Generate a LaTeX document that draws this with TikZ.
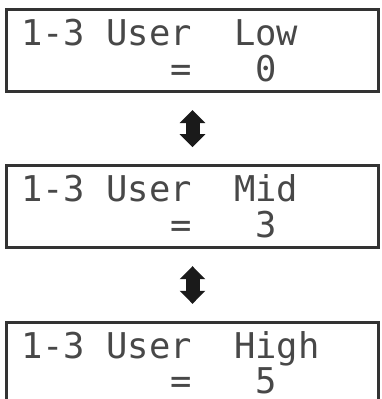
\documentclass[tikz,border=0pt]{standalone}
\usepackage{fontspec}
\usetikzlibrary{arrows.meta}
\newfontfamily\lcdfont{DejaVu Sans Mono}
\definecolor{lcdgray}{HTML}{484848}
\definecolor{framegray}{HTML}{333333}
\definecolor{arrowblack}{HTML}{1A1A1A}
\tikzset{
  screenbox/.style={draw=framegray, line width=2.5pt, minimum width=372pt, minimum height=82pt, anchor=north west, inner sep=0pt, outer sep=0pt},
  lcdtext/.style={anchor=base west, inner sep=0pt, outer sep=0pt, text=lcdgray, font=\lcdfont\fontsize{35.5}{35.5}\selectfont},
  updown/.style={draw=arrowblack, line width=14pt, {Triangle[width=25pt,length=13pt]}-{Triangle[width=25pt,length=13pt]}}
}
\begin{document}
\begin{tikzpicture}[x=1pt,y=-1pt]
\clip (0,0) rectangle (382,399);
% screens
\node[screenbox] (b1) at (6.5,9.5) {};
\node[screenbox] (b2) at (6.5,165.7) {};
\node[screenbox] (b3) at (6.5,322.3) {};
% screen 1
\node[lcdtext] (t1a) at ([xshift=14.5pt,yshift=-36pt]b1.north west) {1-3 User};
\node[lcdtext] (t1b) at ([xshift=227.5pt,yshift=-36pt]b1.north west) {Low};
\node[lcdtext] (t1c) at ([xshift=163.6pt,yshift=-72pt]b1.north west) {=};
\node[lcdtext] (t1d) at ([xshift=248.8pt,yshift=-72pt]b1.north west) {0};
% screen 2
\node[lcdtext] (t2a) at ([xshift=14.5pt,yshift=-36pt]b2.north west) {1-3 User};
\node[lcdtext] (t2b) at ([xshift=227.5pt,yshift=-36pt]b2.north west) {Mid};
\node[lcdtext] (t2c) at ([xshift=163.6pt,yshift=-72pt]b2.north west) {=};
\node[lcdtext] (t2d) at ([xshift=248.8pt,yshift=-72pt]b2.north west) {3};
% screen 3
\node[lcdtext] (t3a) at ([xshift=14.5pt,yshift=-36pt]b3.north west) {1-3 User};
\node[lcdtext] (t3b) at ([xshift=227.5pt,yshift=-36pt]b3.north west) {High};
\node[lcdtext] (t3c) at ([xshift=163.6pt,yshift=-71pt]b3.north west) {=};
\node[lcdtext] (t3d) at ([xshift=248.8pt,yshift=-71pt]b3.north west) {5};
% arrows
\draw[updown] ([yshift=-18.5pt]b1.south) -- ([yshift=18.5pt]b2.north);
\draw[updown] ([yshift=-18.5pt]b2.south) -- ([yshift=18.5pt]b3.north);
\end{tikzpicture}
\end{document}
